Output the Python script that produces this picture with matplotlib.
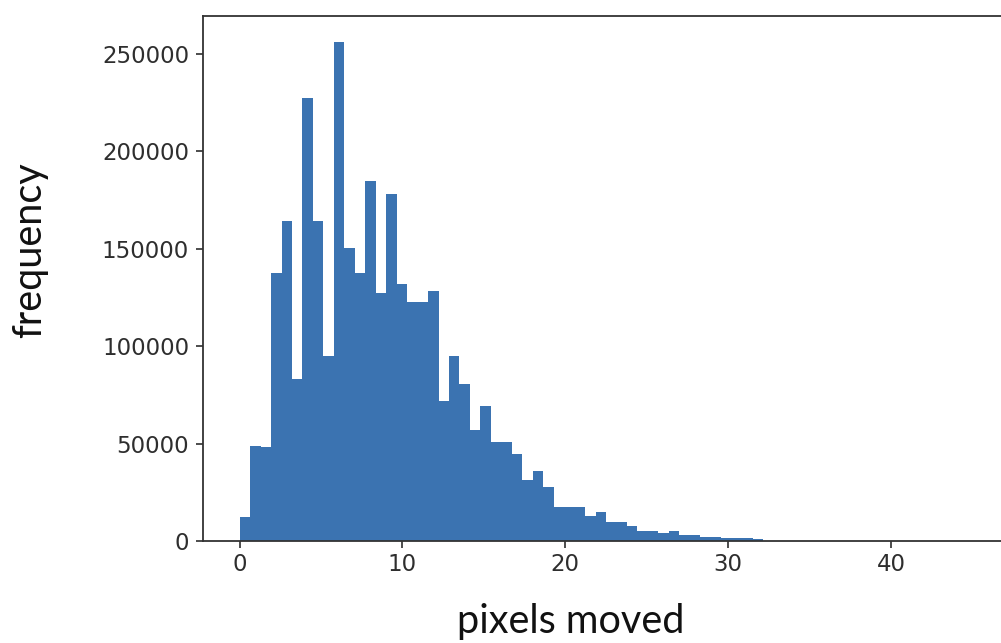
import numpy as np
import matplotlib
matplotlib.use("Agg")
import matplotlib.pyplot as plt

# Histogram data (70 equal bins spanning 0..45 pixels)
bin_start = 0.0
bin_end = 45.0
n_bins = 70
counts = [
    12500, 49000, 48500, 137500, 164500, 83000, 227500, 164500, 95000, 256000,
    150500, 137500, 185000, 127500, 178000, 132000, 122500, 122500, 128500, 72000,
    95000, 80500, 57000, 69500, 51000, 51000, 44500, 31500, 36000, 27500,
    17500, 17500, 17500, 12800, 15000, 10000, 10000, 7800, 5300, 5300,
    4000, 5300, 3000, 3000, 2000, 1800, 1700, 1500, 1300, 1100,
    200, 150, 120, 100, 80, 60, 50, 40, 30, 25,
    20, 15, 12, 10, 8, 6, 5, 4, 3, 2,
]
xticks = [0, 10, 20, 30, 40]
yticks = [0, 50000, 100000, 150000, 200000, 250000]

edges = np.linspace(bin_start, bin_end, n_bins + 1)
centers = (edges[:-1] + edges[1:]) / 2

fig = plt.figure(figsize=(10.01, 6.43), dpi=100)
ax = fig.add_axes([203 / 1001, (643 - 541) / 643, 806 / 1001, 525 / 643])
ax.hist(centers, bins=edges, weights=counts, color="#3b73b1")

ax.set_xticks(xticks)
ax.set_yticks(yticks)
ax.set_ylim(0, max(counts) * 1.053)
ax.tick_params(labelsize=16.5, colors="#2e2e2e", length=5, width=1.2)
ax.tick_params(axis="y", pad=5)
for s in ax.spines.values():
    s.set_linewidth(1.3)
    s.set_color("#333333")

fig.text(571 / 1001, 1 - 622 / 643, "pixels moved", family="Lato",
         fontsize=28.5, ha="center", va="center", color="#111111")
fig.text(30 / 1001, 1 - 250 / 643, "frequency", family="Lato",
         fontsize=28.5, ha="center", va="center", rotation=90, color="#111111")

fig.savefig("out.png", dpi=100)
